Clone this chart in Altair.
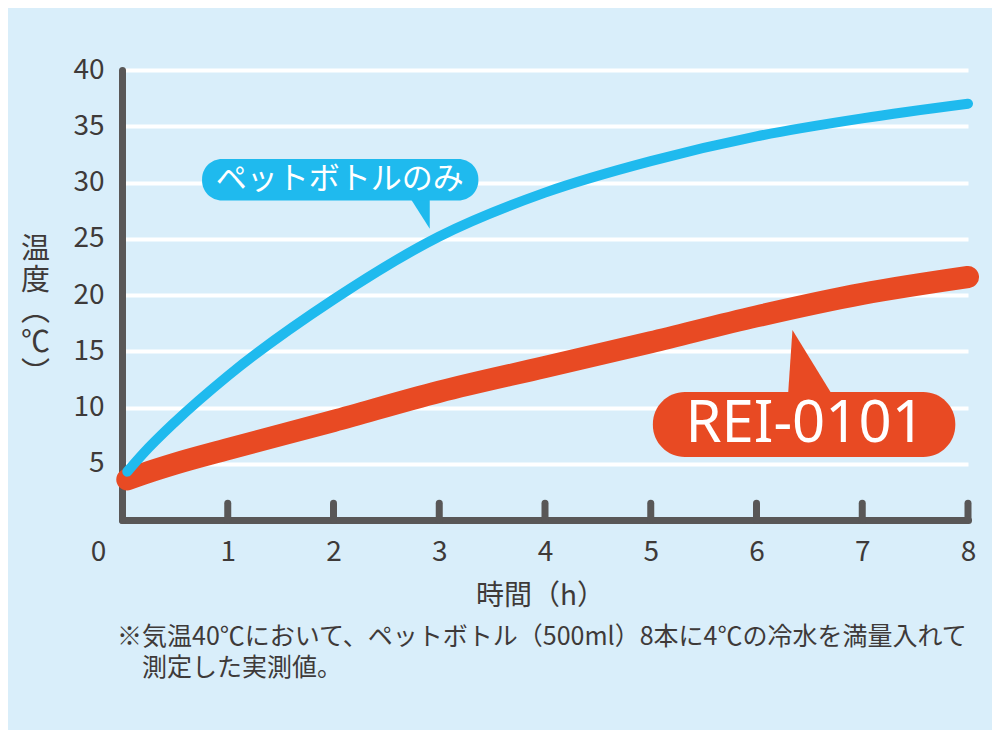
import altair as alt
import pandas as pd

# ---- data ----
hours = [0.05, 0.2, 0.5, 1, 2, 3, 4, 5, 6, 7, 8]
bottle_only = [4.3, 5.9, 8.7, 12.8, 19.6, 25.2, 29.1, 31.9, 34.1, 35.7, 37.0]
rei_0101 = [3.6, 4.1, 5.0, 6.3, 8.8, 11.4, 13.6, 15.8, 18.1, 20.1, 21.6]

x_ticks = [0, 1, 2, 3, 4, 5, 6, 7, 8]
y_ticks = [5, 10, 15, 20, 25, 30, 35, 40]

# callout annotations (data units)
callout_text = ["ペットボトルのみ", "REI-0101"]
callout_cx = [2.06, 6.46]
callout_cy = [30.24, 8.44]
callout_x1 = [0.757, 5.02]
callout_x2 = [3.37, 7.88]
callout_y1 = [28.4, 5.6]
callout_y2 = [32.1, 11.38]
pointer_group = ["b", "b", "r", "r", "r"]
pointer_x = [2.74, 2.91, 6.30, 6.34, 6.70]
pointer_y = [28.4, 25.9, 11.38, 16.9, 11.38]
pointer_y2 = [28.9, 28.9, 10.9, 10.9, 10.9]

footnote = ["※気温40℃において、ペットボトル（500ml）8本に4℃の冷水を満量入れて",
            "\u200b\u3000測定した実測値。"]

BLUE = "#1fbaee"
RED = "#e84a23"
AXIS = "#595757"
TEXT = "#3e3a39"
BG = "#d9eefa"
FONT = "Noto Sans CJK JP"

lines_df = pd.DataFrame({"h": hours, "bottle": bottle_only, "rei": rei_0101})
callout_df = pd.DataFrame({
    "label": callout_text, "cx": callout_cx, "cy": callout_cy,
    "x1": callout_x1, "x2": callout_x2, "y1": callout_y1, "y2": callout_y2,
})
pointer_df = pd.DataFrame({"g": pointer_group, "x": pointer_x, "y": pointer_y, "y2": pointer_y2,
                           "color": [BLUE, BLUE, RED, RED, RED]})
tick_df = pd.DataFrame({"t": x_ticks[1:]})

xscale = alt.Scale(domain=[0, 8], nice=False, zero=False)
yscale = alt.Scale(domain=[0, 40], nice=False)

x_axis = alt.Axis(
    values=x_ticks, format="d", grid=False, ticks=False, tickSize=0,
    labelFlush=False, labelOverlap=False,
    domainColor=AXIS, domainWidth=7, domainCap="round",
    labelFont=FONT, labelFontSize=28, labelColor=TEXT, labelPadding=18,
    labelOffset={"condition": {"test": "datum.value === 0", "value": -24}, "value": 0},
    title="時間（h）", titleFont=FONT, titleFontSize=28, titleFontWeight="normal",
    titleColor=TEXT, titleX=418, titleY=84, titleAlign="center", titleBaseline="alphabetic",
)
y_axis = alt.Axis(
    values=y_ticks, grid=True, gridColor="white", gridWidth=4, gridOpacity=1,
    ticks=False, tickSize=0, labelFlush=False, labelOverlap=False,
    domainColor=AXIS, domainWidth=7, domainCap="round",
    labelFont=FONT, labelFontSize=28, labelColor=TEXT, labelPadding=18,
    title=["温", "度", "︵", "℃", "︶"], titleFont=FONT, titleFontSize=29,
    titleFontWeight="normal", titleColor=TEXT, titleAngle=0, titleAlign="center",
    titleBaseline="top", titleX=-87, titleY=165, titleLineHeight=31,
)

base = alt.Chart(lines_df)

red_line = base.mark_line(color=RED, strokeWidth=22, strokeCap="round",
                          interpolate="monotone").encode(
    x=alt.X("h:Q", scale=xscale, axis=x_axis),
    y=alt.Y("rei:Q", scale=yscale, axis=y_axis),
)
blue_line = base.mark_line(color=BLUE, strokeWidth=10, strokeCap="round",
                           interpolate="monotone").encode(
    x=alt.X("h:Q", scale=xscale),
    y=alt.Y("bottle:Q", scale=yscale),
)

ticks = alt.Chart(tick_df).mark_rule(color=AXIS, strokeWidth=7, strokeCap="round").encode(
    x=alt.X("t:Q", scale=xscale),
    y=alt.datum(0, scale=yscale),
    y2=alt.datum(1.5),
)

pointers = alt.Chart(pointer_df).mark_area(interpolate="linear").encode(
    x=alt.X("x:Q", scale=xscale),
    y=alt.Y("y:Q", scale=yscale),
    y2="y2:Q",
    detail="g:N",
    color=alt.Color("color:N", scale=None),
)

blue_box = alt.Chart(callout_df.iloc[[0]]).mark_rect(cornerRadius=20, color=BLUE).encode(
    x=alt.X("x1:Q", scale=xscale), x2="x2:Q",
    y=alt.Y("y1:Q", scale=yscale), y2="y2:Q",
)
red_box = alt.Chart(callout_df.iloc[[1]]).mark_rect(cornerRadius=32, color=RED).encode(
    x=alt.X("x1:Q", scale=xscale), x2="x2:Q",
    y=alt.Y("y1:Q", scale=yscale), y2="y2:Q",
)

blue_text = alt.Chart(callout_df.iloc[[0]]).mark_text(
    font=FONT, fontSize=31, color="white", align="center", baseline="middle"
).encode(x=alt.X("cx:Q", scale=xscale), y=alt.Y("cy:Q", scale=yscale), text="label:N")
red_text = alt.Chart(callout_df.iloc[[1]]).mark_text(
    font="Noto Sans", fontSize=58, color="white", align="center", baseline="middle"
).encode(x=alt.X("cx:Q", scale=xscale), y=alt.Y("cy:Q", scale=yscale), text="label:N")

chart = alt.layer(
    red_line, blue_line, ticks, pointers, blue_box, red_box, blue_text, red_text
).properties(
    width=846, height=450,
    padding={"left": 114, "top": 62, "right": 24, "bottom": 210},
    autosize=alt.AutoSizeParams(type="none"),
    title=alt.TitleParams(
        text=footnote, orient="bottom", anchor="start", frame="group",
        font=FONT, fontSize=25, fontWeight="normal", color=TEXT,
        lineHeight=31, offset=15, dx=-5,
    ),
).configure(
    background=BG,
).configure_view(
    stroke=None,
)

chart.save("out.html", embed_options={"renderer": "svg", "actions": False})
